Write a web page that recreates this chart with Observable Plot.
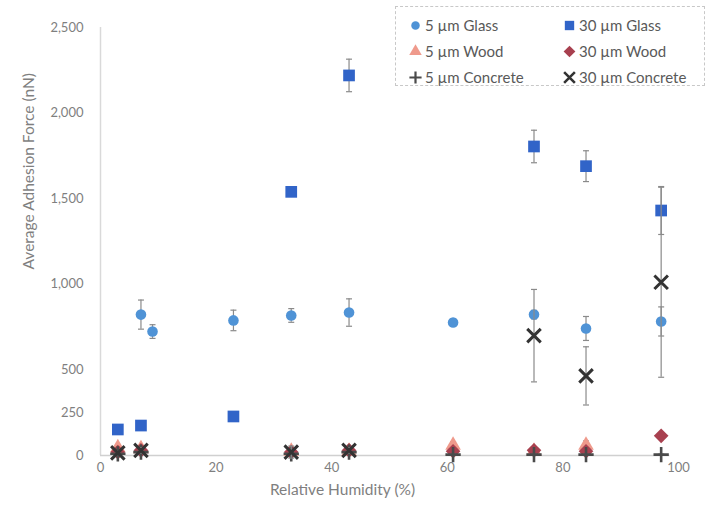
<!DOCTYPE html>
<html>
<head>
<meta charset="utf-8">
<script src="https://cdn.jsdelivr.net/npm/d3@7"></script>
<script src="https://cdn.jsdelivr.net/npm/@observablehq/plot@0.6"></script>
<style>
  html, body { margin: 0; padding: 0; background: #fff; }
  #wrap { position: relative; width: 711px; height: 508px; font-family: Lato, "Open Sans", sans-serif; }
  #legend { position: absolute; left: 395px; top: 6px; width: 310px; height: 80px; border: 1px dashed #c8c8c8; box-sizing: border-box; background: #fff; }
  .li { position: absolute; display: flex; align-items: center; font-size: 15px; color: #595959; white-space: nowrap; }
  .li svg { margin-right: 3px; }
</style>
</head>
<body>
<div id="wrap"></div>
<script>
// ---- data ----
const yTicks = [0, 250, 500, 1000, 1500, 2000, 2500];
const xTicks = [0, 20, 40, 60, 80, 100];

const glass5X   = [7, 9, 23, 33, 43, 61, 75, 84, 97];
const glass5Y   = [823, 724, 789, 818, 835, 777, 823, 742, 783];
const glass5Err = [85, 40, 60, 40, 80, 20, 25, 70, 85];

const glass30X   = [3, 7, 23, 33, 43, 75, 84, 97];
const glass30Y   = [152, 175, 228, 1540, 2220, 1805, 1690, 1431];
const glass30Err = [8, 8, 8, 25, 95, 95, 90, 140];

const wood5X   = [3, 7, 33, 43, 61, 75, 84];
const wood5Y   = [45, 40, 25, 25, 60, 25, 60];
const wood5Err = [15, 10, 10, 10, 20, 10, 25];

const wood30X   = [3, 7, 33, 43, 61, 75, 84, 97];
const wood30Y   = [20, 30, 20, 30, 25, 30, 25, 115];
const wood30Err = [5, 5, 5, 5, 5, 5, 5, 10];

const conc5X   = [3, 7, 33, 43, 61, 75, 84, 97];
const conc5Y   = [10, 20, 10, 20, 5, 5, 5, 5];
const conc5Err = [5, 5, 5, 5, 3, 3, 3, 3];

const conc30X   = [3, 7, 33, 43, 75, 84, 97];
const conc30Y   = [15, 30, 20, 30, 700, 465, 1012];
const conc30Err = [10, 15, 35, 15, 270, 170, 555];

const seriesNames = ["5 µm Glass", "30 µm Glass", "5 µm Wood", "30 µm Wood", "5 µm Concrete", "30 µm Concrete"];

// ---- build tables ----
const zip = (xs, ys, es) => xs.map((x, i) => ({x, y: ys[i], e: es[i]}));
const series = [
  {name: seriesNames[0], data: zip(glass5X, glass5Y, glass5Err),   symbol: "circle",   fill: "#4f93d6", stroke: "none", r: 5.3, sw: 0},
  {name: seriesNames[1], data: zip(glass30X, glass30Y, glass30Err), symbol: "square",   fill: "#3164c8", stroke: "none", r: 6.6, sw: 0},
  {name: seriesNames[2], data: zip(wood5X, wood5Y, wood5Err),       symbol: "triangle", fill: "#ef9a8c", stroke: "none", r: 5.8, sw: 0},
  {name: seriesNames[3], data: zip(wood30X, wood30Y, wood30Err),    symbol: "diamond2", fill: "#a8404f", stroke: "none", r: 6.6, sw: 0},
  {name: seriesNames[4], data: zip(conc5X, conc5Y, conc5Err),       symbol: "plus",     fill: "none", stroke: "#4a4a4a", r: 5.0, sw: 2.6},
  {name: seriesNames[5], data: zip(conc30X, conc30Y, conc30Err),    symbol: "times",    fill: "none", stroke: "#333333", r: 6.2, sw: 3}
];

const capSymbol = {
  draw(ctx, size) {
    const w = Math.sqrt(size / Math.PI);
    ctx.moveTo(-w, 0);
    ctx.lineTo(w, 0);
  }
};

const marks = [
  Plot.ruleX([0], {y1: 0, y2: 2500, stroke: "#d9d9d9", strokeWidth: 1.5}),
  Plot.ruleY([0], {x1: 0, x2: 98.5, stroke: "#d0d0d0", strokeWidth: 1.5}),
  Plot.axisX({ticks: xTicks, tickSize: 0, tickPadding: 7, fontSize: 13, color: "#7f7f7f", label: null}),
  Plot.axisY({ticks: yTicks, tickSize: 0, tickPadding: 17, fontSize: 13, color: "#7f7f7f", tickFormat: d3.format(","), label: null}),
  Plot.text(["Relative Humidity (%)"], {frameAnchor: "bottom", dx: -47, dy: 39, fontSize: 15.5, fill: "#7f7f7f"}),
  Plot.text(["Average Adhesion Force (nN)"], {frameAnchor: "left", dx: -71, dy: 28, rotate: -90, fontSize: 15.5, fill: "#7f7f7f"})
];

for (const s of series) {
  marks.push(
    Plot.ruleX(s.data, {x: "x", y1: d => d.y - d.e, y2: d => d.y + d.e, stroke: "#8a8a8a", strokeWidth: 1.2}),
    Plot.dot(s.data, {x: "x", y: d => d.y - d.e, symbol: capSymbol, r: 3, stroke: "#8a8a8a", strokeWidth: 1.2}),
    Plot.dot(s.data, {x: "x", y: d => d.y + d.e, symbol: capSymbol, r: 3, stroke: "#8a8a8a", strokeWidth: 1.2}),
    Plot.dot(s.data, {x: "x", y: "y", symbol: s.symbol, r: s.r, fill: s.fill, stroke: s.stroke, strokeWidth: s.sw})
  );
}

const chart = Plot.plot({
  width: 711,
  height: 508,
  marginLeft: 100,
  marginRight: 33,
  marginTop: 27,
  marginBottom: 53,
  style: {fontFamily: "Lato, 'Open Sans', sans-serif", background: "#fff"},
  x: {domain: [0, 100]},
  y: {domain: [0, 2500]},
  marks
});

const wrap = document.getElementById("wrap");
wrap.appendChild(chart);

// ---- legend ----
const legend = document.createElement("div");
legend.id = "legend";
const cols = [12, 166];
const rows = [9, 35, 61];
series.forEach((s, i) => {
  const item = document.createElement("div");
  item.className = "li";
  item.style.left = cols[i % 2] + "px";
  item.style.top = rows[Math.floor(i / 2)] + "px";
  const sym = Plot.dot([0], {x: 0, y: 0, symbol: s.symbol, r: s.r * 0.8, fill: s.fill, stroke: s.stroke, strokeWidth: s.sw * 0.85});
  const svg = Plot.plot({width: 14, height: 16, margin: 0, axis: null, x: {domain: [-1, 1]}, y: {domain: [-1, 1]}, marks: [sym]});
  item.appendChild(svg);
  const t = document.createElement("span");
  t.textContent = s.name;
  item.appendChild(t);
  legend.appendChild(item);
});
wrap.appendChild(legend);
</script>
</body>
</html>
